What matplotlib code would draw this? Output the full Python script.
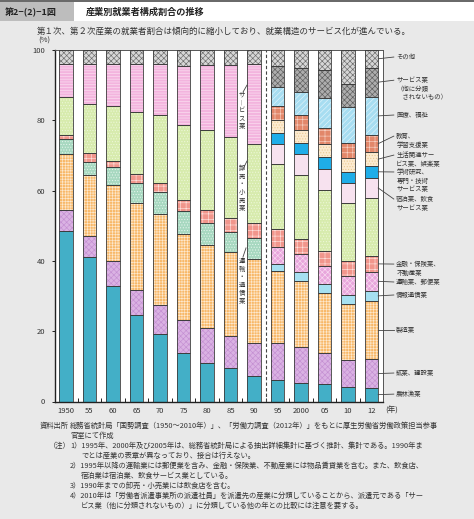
import matplotlib
matplotlib.use("Agg")
import matplotlib.pyplot as plt
import numpy as np
from matplotlib.patches import Rectangle

plt.rcParams['font.family'] = ['Noto Sans CJK JP', 'DejaVu Sans']
plt.rcParams['hatch.linewidth'] = 0.45

# ---------------- data ----------------
year_labels = ["1950", "55", "60", "65", "70", "75", "80", "85", "90",
               "95", "2000", "05", "10", "12"]

agri             = [48.5, 41.0, 32.8, 24.7, 19.3, 13.9, 10.9, 9.4, 7.3, 6.1, 5.2, 4.9, 4.0, 3.9]
mining_constr    = [5.9, 6.1, 7.3, 7.1, 8.1, 9.2, 9.9, 9.1, 9.4, 10.5, 10.2, 8.8, 7.7, 8.1]
manufacturing    = [15.9, 17.3, 21.5, 24.6, 25.9, 24.6, 23.6, 23.9, 23.8, 20.5, 18.9, 17.1, 16.0, 16.6]
transport_comm   = [4.3, 3.7, 5.1, 5.9, 6.3, 6.4, 6.3, 5.9, 5.9, 0, 0, 0, 0, 0]
info_comm        = [0, 0, 0, 0, 0, 0, 0, 0, 0, 1.9, 2.5, 2.5, 2.6, 2.9]
transport_postal = [0, 0, 0, 0, 0, 0, 0, 0, 0, 5.0, 5.1, 5.2, 5.5, 5.4]
finance          = [1.2, 2.6, 1.8, 2.3, 2.6, 3.2, 3.7, 3.8, 4.3, 5.0, 4.3, 4.3, 4.3, 4.5]
wholesale        = [10.9, 13.8, 15.7, 17.7, 19.2, 21.5, 22.7, 23.1, 22.5, 18.5, 18.2, 17.5, 16.5, 16.4]
service_old      = [9.2, 11.4, 11.7, 13.6, 14.5, 16.6, 18.6, 20.5, 22.7, 0, 0, 0, 0, 0]
accommodation    = [0, 0, 0, 0, 0, 0, 0, 0, 0, 5.7, 5.9, 5.8, 5.5, 5.9]
academic         = [0, 0, 0, 0, 0, 0, 0, 0, 0, 3.2, 3.2, 3.4, 3.3, 3.3]
living_services  = [0, 0, 0, 0, 0, 0, 0, 0, 0, 3.7, 3.7, 3.7, 3.8, 3.9]
education        = [0, 0, 0, 0, 0, 0, 0, 0, 0, 4.1, 4.2, 4.5, 4.3, 4.9]
medical          = [0, 0, 0, 0, 0, 0, 0, 0, 0, 5.4, 6.7, 8.6, 10.4, 10.9]
service_nec      = [0, 0, 0, 0, 0, 0, 0, 0, 0, 5.8, 6.7, 8.0, 6.3, 8.3]
other            = [4.1, 4.1, 4.1, 4.1, 4.1, 4.6, 4.3, 4.3, 4.1, 4.6, 5.2, 5.7, 9.8, 5.0]

# label texts (right side, for 1995-2012 categories), lines separated by \n
lbl_agri = "農林漁業"
lbl_mining = "鉱業、建設業"
lbl_manuf = "製造業"
lbl_info = "情報通信業"
lbl_transport = "運輸業、郵便業"
lbl_finance = "金融・保険業、\n不動産業"
lbl_accom = "宿泊業、飲食\nサービス業"
lbl_academic = "学術研究、\n専門・技術\nサービス業"
lbl_living = "生活関連サー\nビス業、娯楽業"
lbl_education = "教育、\n学習支援業"
lbl_medical = "医療、福祉"
lbl_service_nec = "サービス業\n（他に分類\n　されないもの）"
lbl_other = "その他"
# vertical labels for pre-1990 categories
vlbl_service = "サ︱ビス業"
vlbl_wholesale = "卸売・小売業"
vlbl_transport = "運輸・通信業"

# ---------------- styles ----------------
series = [
    # values, face, hatch, hatchcolor, right label, label first-line y
    (agri, '#43afc7', None, '#43afc7', lbl_agri, 2.1),
    (mining_constr, '#dab2e3', 'xxxxxx', '#c48fd2', lbl_mining, 8.1),
    (manufacturing, '#f8b868', '++++++', '#fde9cf', lbl_manuf, 20.3),
    (transport_comm, '#a7d8c0', '......', '#e4f4ec', None, None),
    (info_comm, '#a6e0f1', None, '#a6e0f1', lbl_info, 30.3),
    (transport_postal, '#e8a6dc', 'xxxxxx', '#f9dcf1', lbl_transport, 34.0),
    (finance, '#f1968c', '+++', '#fde0dc', lbl_finance, 39.1),
    (wholesale, '#d7ebad', '......', '#eef7da', None, None),
    (service_old, '#f3b4de', '------', '#fbe2f2', None, None),
    (accommodation, '#f7e2ef', None, '#f7e2ef', lbl_accom, 57.6),
    (academic, '#1fade8', None, '#1fade8', lbl_academic, 65.3),
    (living_services, '#fcead0', '......', '#e9c98f', lbl_living, 70.1),
    (education, '#e2876a', '+++', '#f7d2c4', lbl_education, 75.5),
    (medical, '#a7ddf1', '//////', '#e2f4fb', lbl_medical, 81.5),
    (service_nec, '#adadad', 'xxxxxx', '#5c5c5c', lbl_service_nec, 91.4),
    (other, '#d6d6d6', 'xxxxxx', '#6a6a6a', lbl_other, 98.0),
]

W_PX, H_PX = 474, 519
fig = plt.figure(figsize=(W_PX / 100, H_PX / 100), dpi=100)
fig.patch.set_facecolor('#e9e9e9')

def fx(px):
    return px / W_PX

def fy(py):
    return 1 - py / H_PX

ax = fig.add_axes([fx(55), fy(401.5), fx(383) - fx(55), fy(50) - fy(401.5)])
ax.set_facecolor('white')

x = np.arange(len(year_labels))
bw = 0.57
bottom = np.zeros(len(x))
mids_last = []
for vals, face, hatch, hcol, lab, ly in series:
    v = np.array(vals, dtype=float)
    m = v > 0
    ax.bar(x[m], v[m], bottom=bottom[m], width=bw, color=face,
           edgecolor=hcol, hatch=hatch, linewidth=0, zorder=2)
    ax.bar(x[m], v[m], bottom=bottom[m], width=bw, fill=False,
           edgecolor='#3c3c3c', linewidth=0.6, zorder=3)
    mids_last.append(bottom[-1] + v[-1] / 2)
    bottom = bottom + v

ax.set_xlim(-0.47, 13.49)
ax.set_ylim(0, 100)

# dashed separator between 1990 and 1995
ax.axvline(8.5, color='#444444', lw=0.8, ls=(0, (3, 2)), zorder=4)

# axes styling
for s in ['left', 'bottom']:
    ax.spines[s].set_color('#222222')
    ax.spines[s].set_linewidth(1.0)
for s in ['top', 'right']:
    ax.spines[s].set_color('#555555')
    ax.spines[s].set_linewidth(0.7)
ax.set_yticks([0, 20, 40, 60, 80, 100])
ax.tick_params(axis='y', length=2, width=0.6, labelsize=5.5, labelcolor='#333333',
               pad=5, direction='out')
ax.set_xticks(x)
ax.set_xticklabels(year_labels)
ax.tick_params(axis='x', length=0, labelsize=5.5, labelcolor='#333333', pad=4)
ax.set_xticks(x[:-1] + 0.5, minor=True)
ax.tick_params(axis='x', which='minor', length=3, width=0.6, direction='in')

# right-side labels with leader lines
lbl_x = 14.05
line_step = 2.45
for (vals, face, hatch, hcol, lab, ly), ym in zip(series, mids_last):
    if lab is None:
        continue
    ax.plot([13 + bw / 2, 13.95], [ym, ly], color='#444444', lw=0.6,
            clip_on=False, zorder=5)
    for k, line in enumerate(lab.split("\n")):
        ax.text(lbl_x, ly - k * line_step, line, fontsize=4.6, color='#333333',
                va='center', ha='left', clip_on=False)

# vertical labels near 1990
vert = [
    (vlbl_service, 82.8, (7.53, 88.0), (7.70, 90.0)),
    (vlbl_wholesale, 60.6, (7.53, 66.1), (7.70, 68.4)),
    (vlbl_transport, 34.3, (7.53, 41.1), (7.66, 43.7)),
]
for txt, yc, p0, p1 in vert:
    ax.text(7.47, yc, "\n".join(txt), fontsize=4.6, color='#333333', ha='center',
            va='center', linespacing=1.0, zorder=6)
    ax.plot([p0[0], p1[0]], [p0[1], p1[1]], color='#444444', lw=0.6, zorder=6)

# axis unit labels
fig.text(fx(38), fy(41), "(%)", fontsize=5.5, color='#333333', ha='left', va='center')
fig.text(fx(385), fy(411), "(年)", fontsize=5.5, color='#333333', ha='left', va='center')

# header
fig.patches.append(Rectangle((0, fy(21)), 1, fy(0) - fy(21), transform=fig.transFigure,
                             facecolor='white', edgecolor='none', zorder=0))
fig.patches.append(Rectangle((0, fy(21)), fx(74), fy(0) - fy(21), transform=fig.transFigure,
                             facecolor='#bdbdbd', edgecolor='none', zorder=1))
fig.patches.append(Rectangle((0, fy(2)), 1, fy(0) - fy(2), transform=fig.transFigure,
                             facecolor='#6a6a6a', edgecolor='none', zorder=1))
fig.text(fx(5), fy(12), "第2−(2)−1図", fontsize=6.5, fontweight='bold', color='#222222',
         ha='left', va='center')
fig.text(fx(86), fy(12), "産業別就業者構成割合の推移", fontsize=6.6, fontweight='bold',
         color='#222222', ha='left', va='center')
fig.text(fx(37), fy(31), "第１次、第２次産業の就業者割合は傾向的に縮小しており、就業構造のサービス化が進んでいる。",
         fontsize=6.1, color='#333333', ha='left', va='center')

# footnotes
notes = [
    (40, 426, "資料出所"),
    (70, 426, "総務省統計局「国勢調査（1950〜2010年）」、「労働力調査（2012年）」をもとに厚生労働省労働政策担当参事"),
    (70, 436, "官室にて作成"),
    (49, 446, "（注）"),
    (70, 446, "1）1995年、2000年及び2005年は、総務省統計局による抽出詳細集計に基づく推計、集計である。1990年ま"),
    (81, 456, "でとは産業の表章が異なっており、接合は行えない。"),
    (70, 466, "2）1995年以降の運輸業には郵便業を含み、金融・保険業、不動産業には物品賃貸業を含む。また、飲食店、"),
    (81, 476, "宿泊業は宿泊業、飲食サービス業としている。"),
    (70, 486, "3）1990年までの卸売・小売業には飲食店を含む。"),
    (70, 496, "4）2010年は「労働者派遣事業所の派遣社員」を派遣先の産業に分類していることから、派遣元である「サー"),
    (81, 506, "ビス業（他に分類されないもの）」に分類している他の年との比較には注意を要する。"),
]
for px, py, t in notes:
    fig.text(fx(px), fy(py), t, fontsize=5.25, color='#333333', ha='left', va='center')

fig.savefig("out.png", dpi=100, facecolor=fig.get_facecolor())
